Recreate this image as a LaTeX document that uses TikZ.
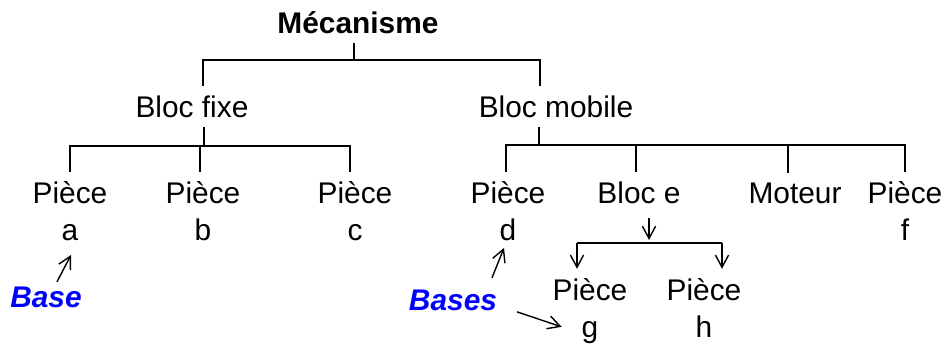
\documentclass[tikz,border=0pt]{standalone}
\usepackage{fontspec}
\setmainfont{Liberation Sans}
\usetikzlibrary{arrows.meta,calc}

\tikzset{
  part/.style={inner xsep=0pt, inner ysep=5.5pt, outer sep=0pt, align=center,
    anchor=base, font=\fontsize{17}{20.8}\selectfont},
  title/.style={part, font=\fontsize{17}{20.8}\selectfont\bfseries},
  tag/.style={part, text=blue, font=\fontsize{17}{20.8}\selectfont\bfseries\itshape},
  link/.style={line width=0.8pt},
  pointer/.style={line width=0.8pt, -{Straight Barb[length=7pt,width=7.5pt]}},
}

\begin{document}
\begin{tikzpicture}[x=0.02cm, y=-0.02cm]
  \useasboundingbox (0,0) rectangle (947,345);
  % Assembly and its two blocks
  \node[title] (mec) at (358,33) {Mécanisme};
  \node[part] (fixe) at (192,117) {Bloc fixe};
  \node[part] (mobile) at (556,117) {Bloc mobile};
  % Parts of the fixed block (base = last line)
  \node[part] (pa) at (70,240) {Pièce\\a};
  \node[part] (pb) at (203,240) {Pièce\\b};
  \node[part] (pc) at (355,240) {Pièce\\c};
  % Parts of the moving block
  \node[part] (pd) at (508,240) {Pièce\\d};
  \node[part] (be) at (639,203) {Bloc e};
  \node[part] (mot) at (795,203) {Moteur};
  \node[part] (pf) at (905,240) {Pièce\\f};
  % Sub-block e
  \node[part] (pg) at (590,337) {Pièce\\g};
  \node[part] (ph) at (704,337) {Pièce\\h};
  % Base markers
  \node[tag] (base) at (46,307) {Base};
  \node[tag] (bases) at (453,310) {Bases};

  % Tree lines
  \draw[link] ($(mec.south)+(-4,0)$) -- ++(0,17) coordinate (j0);
  \draw[link] ($(fixe.north)+(11,0)$) |- (j0) -| ($(mobile.north)+(-16,0)$);

  \draw[link] ($(fixe.south)+(12,0)$) -- ++(0,19) coordinate (j1);
  \draw[link] (pa.north) |- (j1) -| ($(pc.north)+(-5,0)$);
  \draw[link] ($(pb.north)+(-3,0)$) |- (j1);

  \draw[link] ($(mobile.south)+(-17,0)$) -- ++(0,18) coordinate (j2);
  \draw[link] ($(pd.north)+(-2,0)$) |- (j2) -| (pf.north);
  \draw[link] ($(be.north)+(-3,0)$) |- (j2);
  \draw[link] ($(mot.north)+(-7,0)$) |- (j2);

  % Bloc e split
  \draw[pointer] ($(be.south)+(10,5)$) -- ++(0,22);
  \draw[link] ($(be.south)+(-62,30)$) coordinate (j3) -- ($(be.south)+(83,30)$) coordinate (j4);
  \draw[pointer] (j3) -- ($(pg.north)+(-13,0)$);
  \draw[pointer] (j4) -- ($(ph.north)+(18,0)$);

  % Base arrows
  \draw[pointer] ($(base.north)+(11,5)$) -- ($(pa.south)+(1,5)$);
  \draw[pointer] ($(bases.north)+(39,-2)$) -- ($(pd.south)+(-4,-2)$);
  \draw[pointer] ($(bases.east)+(20,12)$) -- ($(pg.west)+(9,16)$);
\end{tikzpicture}
\end{document}
